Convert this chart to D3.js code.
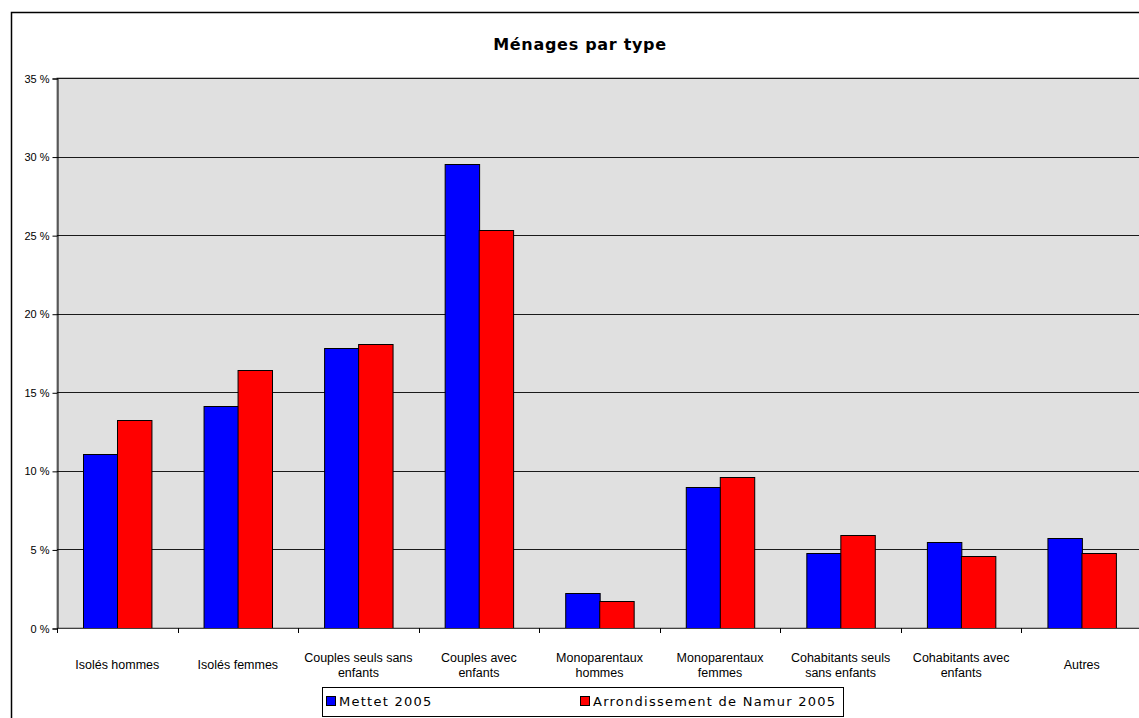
<!DOCTYPE html>
<html>
<head>
<meta charset="utf-8">
<script src="https://cdn.jsdelivr.net/npm/d3@7"></script>
<style>
  html, body { margin: 0; padding: 0; background: #fff; }
  svg { display: block; }
  .tick text { font-family: "Liberation Sans", Arial, sans-serif; font-size: 11px; fill: #000; }
</style>
</head>
<body>
<div id="chart"></div>
<script>
// Data
const categories = [
  'Isolés hommes', 'Isolés femmes', 'Couples seuls sans enfants', 'Couples avec enfants',
  'Monoparentaux hommes', 'Monoparentaux femmes', 'Cohabitants seuls sans enfants',
  'Cohabitants avec enfants', 'Autres'
];
const seriesNames = ['Mettet 2005', 'Arrondissement de Namur 2005'];
const mettet = [11.05, 14.15, 17.8, 29.55, 2.25, 9.0, 4.8, 5.5, 5.7];
const namur = [13.25, 16.45, 18.1, 25.35, 1.7, 9.6, 5.95, 4.6, 4.8];
const seriesColors = ['#0000ff', '#ff0000'];
const yTicks = [0, 5, 10, 15, 20, 25, 30, 35];

const width = 1139, height = 718;
const margin = {left: 57, top: 78, right: 1142, bottom: 628};

const svg = d3.select('#chart').append('svg')
  .attr('width', width)
  .attr('height', height);

// outer chart frame (right and bottom edges fall outside the picture)
svg.append('rect')
  .attr('x', 11.5).attr('y', 12.5)
  .attr('width', 1140).attr('height', 720)
  .attr('fill', '#fff')
  .attr('stroke', '#000')
  .attr('stroke-width', 1.5);

svg.append('text')
  .attr('x', 580).attr('y', 50)
  .attr('text-anchor', 'middle')
  .style('font-family', '"DejaVu Sans", Verdana, sans-serif')
  .style('font-weight', 'bold')
  .style('font-size', '16px')
  .style('letter-spacing', '0.7px')
  .text('Ménages par type');

const x = d3.scaleBand()
  .domain(categories)
  .range([margin.left, margin.right]);

const xInner = d3.scaleBand()
  .domain(seriesNames)
  .range([0, x.bandwidth()])
  .paddingOuter(0.75)
  .paddingInner(0);

const y = d3.scaleLinear()
  .domain([0, 35])
  .range([margin.bottom, margin.top]);

// plot area
svg.append('rect')
  .attr('x', margin.left).attr('y', margin.top)
  .attr('width', margin.right - margin.left)
  .attr('height', margin.bottom - margin.top)
  .attr('fill', '#e0e0e0')
  .attr('stroke', '#808080')
  .attr('stroke-width', 1);

// gridlines
svg.append('g')
  .selectAll('line')
  .data(yTicks.filter(d => d > 0))
  .join('line')
  .attr('x1', margin.left).attr('x2', margin.right)
  .attr('y1', d => Math.round(y(d)) + 0.5)
  .attr('y2', d => Math.round(y(d)) + 0.5)
  .attr('stroke', '#1a1a1a')
  .attr('stroke-width', 1);

// bars
const rows = categories.map((c, i) => ({category: c, values: [mettet[i], namur[i]]}));

const groups = svg.append('g')
  .selectAll('g')
  .data(rows)
  .join('g')
  .attr('transform', d => `translate(${x(d.category)},0)`);

groups.selectAll('rect')
  .data(d => d.values.map((v, k) => ({series: seriesNames[k], value: v, k})))
  .join('rect')
  .attr('x', d => Math.round(xInner(d.series)) + 0.5)
  .attr('y', d => Math.round(y(d.value)) + 0.5)
  .attr('width', xInner.bandwidth())
  .attr('height', d => y(0) - Math.round(y(d.value)))
  .attr('fill', d => seriesColors[d.k])
  .attr('stroke', '#000')
  .attr('stroke-width', 1);

// y axis
const yAxis = d3.axisLeft(y)
  .tickValues(yTicks)
  .tickSize(5)
  .tickPadding(3)
  .tickFormat(d => d + ' %');

svg.append('g')
  .attr('transform', `translate(${margin.left + 0.5},0.5)`)
  .call(yAxis)
  .call(g => g.selectAll('.domain, .tick line').attr('stroke', '#000'));

// x axis line and category boundary ticks
const xAxisG = svg.append('g');
xAxisG.append('line')
  .attr('x1', margin.left).attr('x2', margin.right)
  .attr('y1', margin.bottom + 0.5).attr('y2', margin.bottom + 0.5)
  .attr('stroke', '#404040');

const boundaries = categories.map(c => x(c)).concat([margin.right]);
xAxisG.selectAll('line.bound')
  .data(boundaries)
  .join('line')
  .attr('class', 'bound')
  .attr('x1', d => Math.round(d) + 0.5).attr('x2', d => Math.round(d) + 0.5)
  .attr('y1', margin.bottom).attr('y2', margin.bottom + 5)
  .attr('stroke', '#000');

// category labels, wrapped to fit the band
const labelFont = '12.5px "Liberation Sans", Arial, sans-serif';
const ctx = document.createElement('canvas').getContext('2d');
ctx.font = labelFont;

function wrap(text, maxWidth) {
  const words = text.split(' ');
  const lines = [];
  let line = '';
  words.forEach(w => {
    const test = line ? line + ' ' + w : w;
    if (line && ctx.measureText(test).width > maxWidth) {
      lines.push(line);
      line = w;
    } else {
      line = test;
    }
  });
  lines.push(line);
  return lines;
}

const labels = svg.append('g')
  .selectAll('text')
  .data(categories)
  .join('text')
  .attr('text-anchor', 'middle')
  .style('font', labelFont)
  .attr('fill', '#000');

labels.each(function (c) {
  const lines = wrap(c, 116);
  const cx = x(c) + x.bandwidth() / 2;
  const baseY = lines.length === 1 ? 669 : 662;
  d3.select(this).selectAll('tspan')
    .data(lines)
    .join('tspan')
    .attr('x', cx)
    .attr('y', (d, i) => baseY + i * 15)
    .text(d => d);
});

// legend
const legend = svg.append('g');
legend.append('rect')
  .attr('x', 322.5).attr('y', 687.5)
  .attr('width', 521).attr('height', 29)
  .attr('fill', '#fff')
  .attr('stroke', '#000')
  .attr('stroke-width', 1);

const legendX = [326, 580];
seriesNames.forEach((name, i) => {
  legend.append('rect')
    .attr('x', legendX[i] + 0.5).attr('y', 696.5)
    .attr('width', 9).attr('height', 9)
    .attr('fill', seriesColors[i])
    .attr('stroke', '#000');
  legend.append('text')
    .attr('x', legendX[i] + 13)
    .attr('y', 706)
    .style('font-family', '"DejaVu Sans", Verdana, sans-serif')
    .style('font-size', '13px')
    .style('letter-spacing', '1.25px')
    .attr('fill', '#000')
    .text(name);
});
</script>
</body>
</html>
